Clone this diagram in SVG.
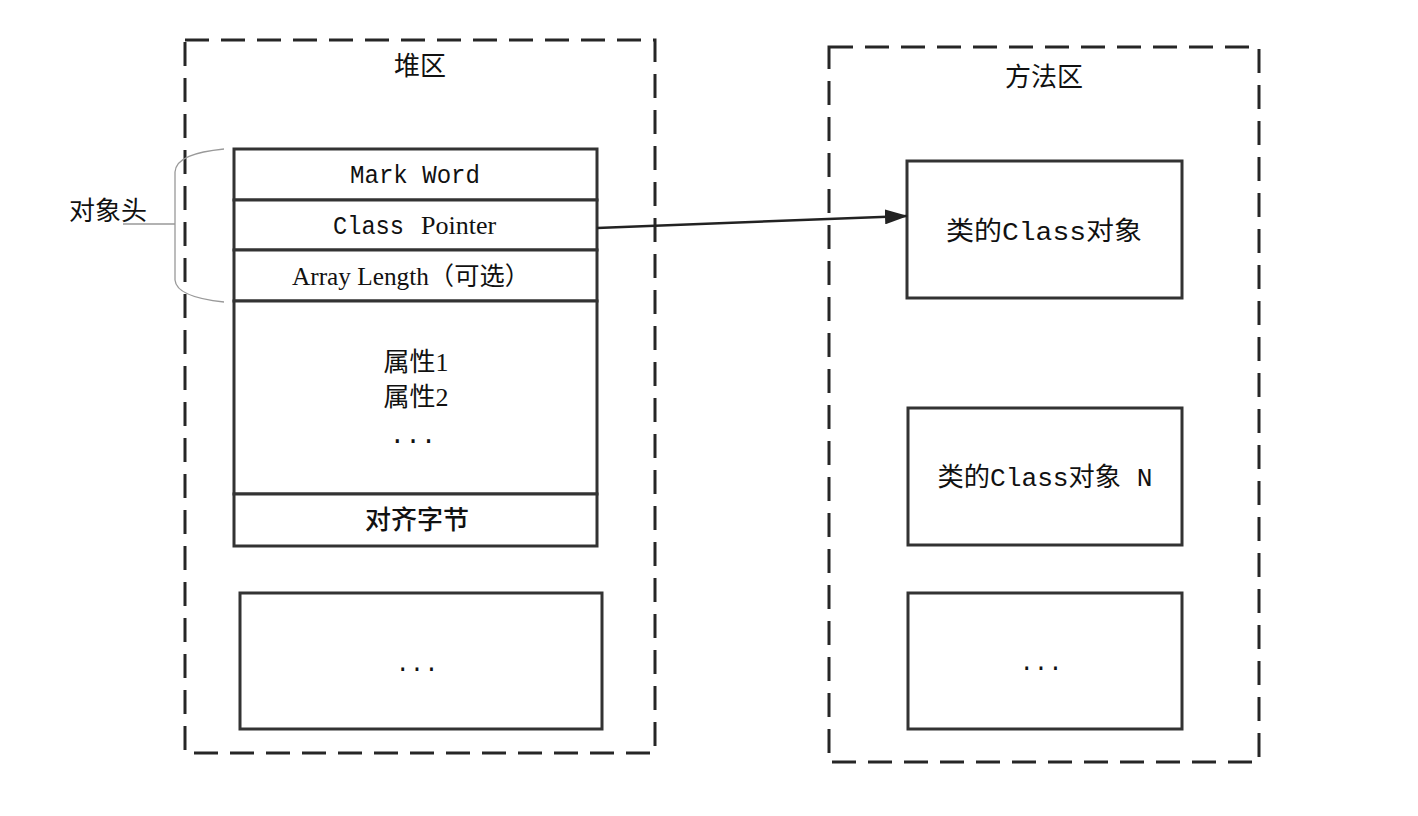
<svg xmlns="http://www.w3.org/2000/svg" width="1418" height="816" viewBox="0 0 1418 816">
<style>
.area{fill:none;stroke:#262626;stroke-width:3;stroke-dasharray:24 12}
.box{fill:#fff;stroke:#333;stroke-width:3}
.cjk{font-family:"Noto Sans CJK SC",sans-serif;fill:#111}
.ser{font-family:"Liberation Serif","Noto Sans CJK SC",serif;fill:#111}
.mono{font-family:"Liberation Mono","Noto Sans CJK SC",monospace;fill:#111}
.brace{fill:none;stroke:#999;stroke-width:1.3}
.conn{fill:none;stroke:#222;stroke-width:2.5}
</style>
<defs>
<marker id="arr" markerUnits="userSpaceOnUse" markerWidth="23" markerHeight="15" viewBox="0 0 23 15" refX="22" refY="7.5" orient="auto">
<path d="M0,0 L23,7.5 L0,15 z" fill="#222"/>
</marker>
</defs>
<rect width="1418" height="816" fill="#fff"/>
<g id="heap">
<rect class="area" x="185" y="40" width="470" height="713"/>
<text class="cjk" x="420" y="75" font-size="26" text-anchor="middle">堆区</text>
</g>
<g id="method-area">
<rect class="area" x="829" y="47" width="430" height="715"/>
<text class="cjk" x="1044" y="86" font-size="26" text-anchor="middle">方法区</text>
</g>
<g id="object-header-label">
<path class="brace" d="M224,149 C195,152 176,158 175,172 L175,280 C176,292 195,299 224,302"/>
<line class="brace" x1="123" y1="224" x2="175" y2="224"/>
<text class="cjk" x="108" y="220" font-size="26" text-anchor="middle">对象头</text>
</g>
<g id="mark-word">
<rect class="box" x="234" y="149" width="363" height="51"/>
<text class="mono" x="415" y="183" font-size="26" text-anchor="middle" textLength="130" lengthAdjust="spacingAndGlyphs">Mark Word</text>
</g>
<g id="class-pointer">
<rect class="box" x="234" y="200" width="363" height="50"/>
<text x="333" y="234" font-size="26"><tspan class="mono" textLength="71" lengthAdjust="spacingAndGlyphs">Class</tspan><tspan class="ser" x="421" font-size="26">Pointer</tspan></text>
</g>
<g id="array-length">
<rect class="box" x="234" y="250" width="363" height="51"/>
<text class="ser" x="411" y="285" font-size="25" text-anchor="middle" textLength="238" lengthAdjust="spacingAndGlyphs">Array Length（可选）</text>
</g>
<g id="fields">
<rect class="box" x="234" y="301" width="363" height="193"/>
<text class="ser" x="416" y="371" font-size="26" text-anchor="middle">属性1</text>
<text class="ser" x="416" y="406" font-size="26" text-anchor="middle">属性2</text>
<text class="mono" x="413" y="443" font-size="26" text-anchor="middle">...</text>
</g>
<g id="padding">
<rect class="box" x="234" y="494" width="363" height="52"/>
<text class="cjk" x="417" y="529" font-size="26" font-weight="500" text-anchor="middle">对齐字节</text>
</g>
<g id="heap-more">
<rect class="box" x="240" y="593" width="362" height="136"/>
<text class="mono" x="417" y="671" font-size="24" text-anchor="middle">...</text>
</g>
<g id="class-object">
<rect class="box" x="907" y="161" width="275" height="137"/>
<text class="mono" x="1044" y="240" font-size="26" text-anchor="middle" textLength="196" lengthAdjust="spacingAndGlyphs">类的Class对象</text>
</g>
<g id="class-object-n">
<rect class="box" x="908" y="408" width="274" height="137"/>
<text class="mono" x="1045" y="486" font-size="26" text-anchor="middle" textLength="215" lengthAdjust="spacingAndGlyphs">类的Class对象 N</text>
</g>
<g id="method-more">
<rect class="box" x="908" y="593" width="274" height="136"/>
<text class="mono" x="1041" y="670" font-size="24" text-anchor="middle">...</text>
</g>
<g id="connectors">
<line class="conn" x1="597" y1="228" x2="907" y2="216" marker-end="url(#arr)"/>
</g>
</svg>
